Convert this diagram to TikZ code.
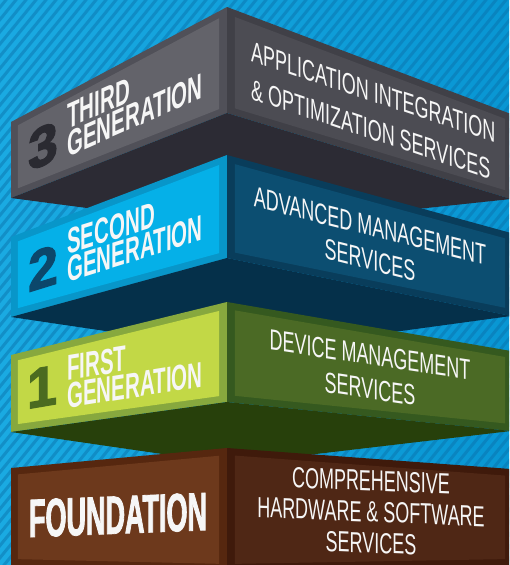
\documentclass[tikz,border=0pt]{standalone}
\usepackage{fontspec}
\usetikzlibrary{calc}
\setmainfont{Liberation Sans}
\newfontfamily\svcfont[FakeStretch=0.62]{Liberation Sans}
\newfontfamily\genfont[FakeStretch=0.57]{Liberation Sans Bold}
\newfontfamily\fndfont[FakeStretch=0.5,FakeBold=1.5]{Liberation Sans Bold}
\newfontfamily\digfont[FakeStretch=0.95,FakeBold=2.5]{Liberation Sans Bold}

\definecolor{bgl}{HTML}{1AAAE2}
\definecolor{bgr}{HTML}{0896D3}
\definecolor{stripecol}{HTML}{0A6FA8}
\definecolor{thrlo}{HTML}{505058}
\definecolor{thrli}{HTML}{63636A}
\definecolor{thrro}{HTML}{404047}
\definecolor{thrri}{HTML}{4C4C53}
\definecolor{thrund}{HTML}{2C2B34}
\definecolor{thrdig}{HTML}{2A2A31}
\definecolor{seclo}{HTML}{0896C9}
\definecolor{secli}{HTML}{05B0E8}
\definecolor{secro}{HTML}{093D5B}
\definecolor{secri}{HTML}{0C4E71}
\definecolor{secund}{HTML}{05304A}
\definecolor{secdig}{HTML}{0C476B}
\definecolor{firlo}{HTML}{87A83E}
\definecolor{firli}{HTML}{C2D846}
\definecolor{firro}{HTML}{35591F}
\definecolor{firri}{HTML}{4B6A25}
\definecolor{firund}{HTML}{27400B}
\definecolor{firdig}{HTML}{4B6B20}
\definecolor{fndlo}{HTML}{56270F}
\definecolor{fndli}{HTML}{6D391C}
\definecolor{fndro}{HTML}{3F1A0B}
\definecolor{fndri}{HTML}{4F2715}
\definecolor{txt}{HTML}{F6F6F6}

% inner panel of a face: corners TL, TR, BR, BL, left/right fractions, fill
\newcommand\facepanel[7]{%
  \fill[#7] ($(#1)!#5!(#2)+(0,7)$) -- ($(#1)!#6!(#2)+(0,7)$) --
            ($(#4)!#6!(#3)+(0,-7)$) -- ($(#4)!#5!(#3)+(0,-7)$) -- cycle;}
% a block: coordinate prefix, colour prefix
\newcommand\drawblock[2]{%
  \fill[#2lo] (#1Lt) -- (#1Ct) -- (#1Cb) -- (#1Lb) -- cycle;
  \facepanel{#1Lt}{#1Ct}{#1Cb}{#1Lb}{0.032}{0.963}{#2li}
  \fill[#2ro] (#1Ct) -- (#1Rt) -- (#1Rb) -- (#1Cb) -- cycle;
  \facepanel{#1Ct}{#1Rt}{#1Rb}{#1Cb}{0.028}{0.979}{#2ri}}

\begin{document}
\begin{tikzpicture}[x=1pt,y=-1pt,
  stripe/.style={draw=stripecol, draw opacity=0.45, line width=3pt},
  gentext/.style={text=txt, font=\genfont\fontsize{36}{28}\selectfont, align=left, inner sep=0pt},
  svctext/.style={text=txt, font=\svcfont\fontsize{29}{#1}\selectfont, inner sep=0pt},
  svctext/.default=34,
  digit/.style={font=\digfont\fontsize{56}{56}\selectfont, inner sep=0pt},
  fndtext/.style={text=txt, font=\fndfont\fontsize{54}{54}\selectfont, inner sep=0pt}]
\useasboundingbox (0,0) rectangle (509,565);
\begin{scope}
\clip (0,0) rectangle (509,565);
% background
\shade[left color=bgl, right color=bgr] (-2,-2) rectangle (511,567);
\foreach \s in {-480,-470,...,510} \draw[stripe] (\s,570) -- ++(470,-575);

% ---- third generation
\coordinate (TLt) at (11,122); \coordinate (TLb) at (11,198);
\coordinate (TCt) at (227,7);  \coordinate (TCb) at (227,113);
\coordinate (TRt) at (511,114); \coordinate (TRb) at (511,199);
\coordinate (TU) at (239,228);
\drawblock{T}{thr}
\fill[thrund] (TLb) -- (TCb) -- (TRb) -- (TU) -- cycle;

% ---- second generation
\coordinate (SLt) at (11,237); \coordinate (SLb) at (11,317);
\coordinate (SCt) at (227,155); \coordinate (SCb) at (227,258);
\coordinate (SRt) at (511,233); \coordinate (SRb) at (511,316);
\coordinate (SU) at (247,352);
\drawblock{S}{sec}
\fill[secund] (SLb) -- (SCb) -- (SRb) -- (SU) -- cycle;

% ---- first generation
\coordinate (FLt) at (11,355); \coordinate (FLb) at (11,432);
\coordinate (FCt) at (227,302); \coordinate (FCb) at (227,402);
\coordinate (FRt) at (511,351); \coordinate (FRb) at (511,431);
\coordinate (FU) at (231,464);
\drawblock{F}{fir}
\fill[firund] (FLb) -- (FCb) -- (FRb) -- (FU) -- cycle;

% ---- foundation
\coordinate (OLt) at (11,468); \coordinate (OLb) at (11,566);
\coordinate (OCt) at (227,448); \coordinate (OCb) at (227,571);
\coordinate (ORt) at (511,469); \coordinate (ORb) at (511,566);
\drawblock{O}{fnd}
\end{scope}

% ---- texts
\node[digit, text=thrdig, yslant=0.44] (d3) at (43,146) {3};
\node[gentext, yslant=0.44, anchor=west] (t3l) at (67,131) {THIRD\\GENERATION};
\node[svctext=38, align=left, yslant=-0.335, anchor=west] (t3r) at (251,70)
  {APPLICATION INTEGRATION\\\& OPTIMIZATION SERVICES};

\node[digit, text=secdig, yslant=0.31] (d2) at (43,268) {2};
\node[gentext, yslant=0.31, anchor=west] (t2l) at (67,256) {SECOND\\GENERATION};
\node[svctext, align=center, yslant=-0.25] (t2r) at (370,243)
  {ADVANCED MANAGEMENT\\SERVICES};

\node[digit, text=firdig, yslant=0.17] (d1) at (42,387) {1};
\node[gentext, yslant=0.16, anchor=west] (t1l) at (67,382) {FIRST\\GENERATION};
\node[svctext, align=center, yslant=-0.15] (t1r) at (370,372)
  {DEVICE MANAGEMENT\\SERVICES};

\node[fndtext, yslant=0.04] (t0l) at (118,515) {FOUNDATION};
\node[svctext=31, align=center, yslant=-0.04] (t0r) at (371,512)
  {COMPREHENSIVE\\HARDWARE \& SOFTWARE\\SERVICES};
\end{tikzpicture}
\end{document}
